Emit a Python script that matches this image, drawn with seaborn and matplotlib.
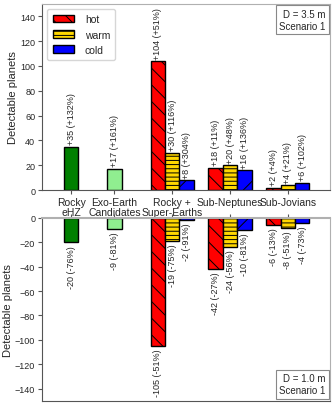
import numpy as np
import pandas as pd
import matplotlib
matplotlib.use('Agg')
import matplotlib.pyplot as plt
import matplotlib.patches as mpatches
import seaborn as sns

# ================= data =================
CATEGORIES = ['Rocky\neHZ', 'Exo-Earth\nCandidates', 'Rocky +\nSuper-Earths', 'Sub-Neptunes', 'Sub-Jovians']
CAT_POS = [0, 0.75, 1.75, 2.75, 3.75]

# single bars (Rocky eHZ, Exo-Earth Candidates)
SINGLE_UP = [35, 17]
SINGLE_UP_PCT = [132, 161]
SINGLE_DOWN = [-20, -9]
SINGLE_DOWN_PCT = [-76, -81]

# grouped bars (Rocky + Super-Earths, Sub-Neptunes, Sub-Jovians)
HOT_UP = [104, 18, 2]
HOT_UP_PCT = [51, 11, 4]
WARM_UP = [30, 20, 4]
WARM_UP_PCT = [116, 48, 21]
COLD_UP = [8, 16, 6]
COLD_UP_PCT = [304, 136, 102]

HOT_DOWN = [-105, -42, -6]
HOT_DOWN_PCT = [-51, -27, -13]
WARM_DOWN = [-19, -24, -8]
WARM_DOWN_PCT = [-75, -56, -51]
COLD_DOWN = [-2, -10, -4]
COLD_DOWN_PCT = [-91, -81, -73]
# ========================================

BAR_W = 0.25
STYLE = {
    'ehz': dict(color='green', hatch=''),
    'exo': dict(color='lightgreen', hatch=''),
    'hot': dict(color='red', hatch='\\\\'),
    'warm': dict(color='gold', hatch='----'),
    'cold': dict(color='blue', hatch='/'),
}
SPINE_DARK = '#555555'
SPINE_LIGHT = '#b0b0b0'


def build_frame(single, single_pct, hot, hot_pct, warm, warm_pct, cold, cold_pct):
    rows = []
    rows.append(('ehz', CAT_POS[0], single[0], single_pct[0]))
    rows.append(('exo', CAT_POS[1], single[1], single_pct[1]))
    for i, p in enumerate(CAT_POS[2:]):
        rows.append(('hot', p - BAR_W, hot[i], hot_pct[i]))
        rows.append(('warm', p, warm[i], warm_pct[i]))
        rows.append(('cold', p + BAR_W, cold[i], cold_pct[i]))
    return pd.DataFrame(rows, columns=['kind', 'x', 'n', 'pct'])


def draw(ax, df, up):
    palette = {k: v['color'] for k, v in STYLE.items()}
    sns.barplot(data=df, x='x', y='n', hue='kind', palette=palette, saturation=1,
                native_scale=True, dodge=False, width=1.0, edgecolor='black',
                linewidth=1.0, legend=False, ax=ax, errorbar=None)
    # hatches
    for bar in ax.patches:
        xc = bar.get_x() + bar.get_width() / 2
        match = df.iloc[(df['x'] - xc).abs().argsort().iloc[0]]
        bar.set_hatch(STYLE[match['kind']]['hatch'])
    # annotations
    for _, r in df.iterrows():
        txt = f"{r['n']:+d} ({r['pct']:+d}%)"
        if up:
            ax.text(r['x'], r['n'] + 2, txt, rotation=90, ha='center', va='bottom', fontsize=6.5)
        else:
            ax.text(r['x'], r['n'] - 2, txt, rotation=90, ha='center', va='top', fontsize=6.5)


def main():
    sns.set_style('ticks')
    plt.rcParams['font.family'] = ['Liberation Sans', 'DejaVu Sans']
    plt.rcParams['hatch.linewidth'] = 0.7

    fig = plt.figure(figsize=(3.32, 4.10), dpi=100)
    ax1 = fig.add_axes([0.127, 0.534, 0.867, 0.454])
    ax2 = fig.add_axes([0.127, 0.020, 0.867, 0.446])

    df_up = build_frame(SINGLE_UP, SINGLE_UP_PCT, HOT_UP, HOT_UP_PCT,
                        WARM_UP, WARM_UP_PCT, COLD_UP, COLD_UP_PCT)
    df_down = build_frame(SINGLE_DOWN, SINGLE_DOWN_PCT, HOT_DOWN, HOT_DOWN_PCT,
                          WARM_DOWN, WARM_DOWN_PCT, COLD_DOWN, COLD_DOWN_PCT)
    draw(ax1, df_up, True)
    draw(ax2, df_down, False)

    for ax in (ax1, ax2):
        ax.set_xlim(-0.5, 4.48)
        ax.set_ylabel('Detectable planets', fontsize=8)
        ax.set_xlabel('')
        ax.set_yticks(np.arange(-140, 141, 20))
        ax.tick_params(axis='y', labelsize=6.5, length=3, pad=2, color=SPINE_DARK)
        ax.set_xticks(CAT_POS)
    ax1.yaxis.set_label_coords(-0.085, 0.5)
    ax2.yaxis.set_label_coords(-0.10, 0.5)

    ax1.set_ylim(0, 150)
    ax1.set_xticklabels(CATEGORIES, fontsize=7.5, linespacing=1.0)
    ax1.tick_params(axis='x', length=3, pad=2, color=SPINE_DARK)
    for s in ('left', 'bottom'):
        ax1.spines[s].set_color(SPINE_DARK)
    for s in ('top', 'right'):
        ax1.spines[s].set_color(SPINE_LIGHT)

    ax2.set_ylim(-150, 0)
    ax2.xaxis.tick_top()
    ax2.set_xticklabels([])
    ax2.tick_params(axis='x', length=3, color=SPINE_DARK)
    for s in ('left', 'bottom'):
        ax2.spines[s].set_color(SPINE_DARK)
    for s in ('top', 'right'):
        ax2.spines[s].set_color(SPINE_LIGHT)
    ax2.spines['top'].set_linewidth(1.5)

    handles = [mpatches.Patch(facecolor=STYLE[k]['color'], edgecolor='black',
                              hatch=STYLE[k]['hatch'], label=k)
               for k in ('hot', 'warm', 'cold')]
    ax1.legend(handles=handles, loc='upper left', fontsize=7.5, frameon=True,
               handlelength=2.1, handleheight=0.7, borderpad=0.5, labelspacing=0.5,
               handletextpad=1.0, edgecolor='#cccccc')

    box = dict(boxstyle='square,pad=0.35', facecolor='white', edgecolor='#888888', linewidth=0.8)
    ax1.text(0.985, 0.975, 'D = 3.5 m\nScenario 1', transform=ax1.transAxes,
             ha='right', va='top', fontsize=7, bbox=box, linespacing=1.3)
    ax2.text(0.985, 0.03, 'D = 1.0 m\nScenario 1', transform=ax2.transAxes,
             ha='right', va='bottom', fontsize=7, bbox=box, linespacing=1.3)

    fig.savefig('out.png', dpi=100)


if __name__ == "__main__":
    main()
